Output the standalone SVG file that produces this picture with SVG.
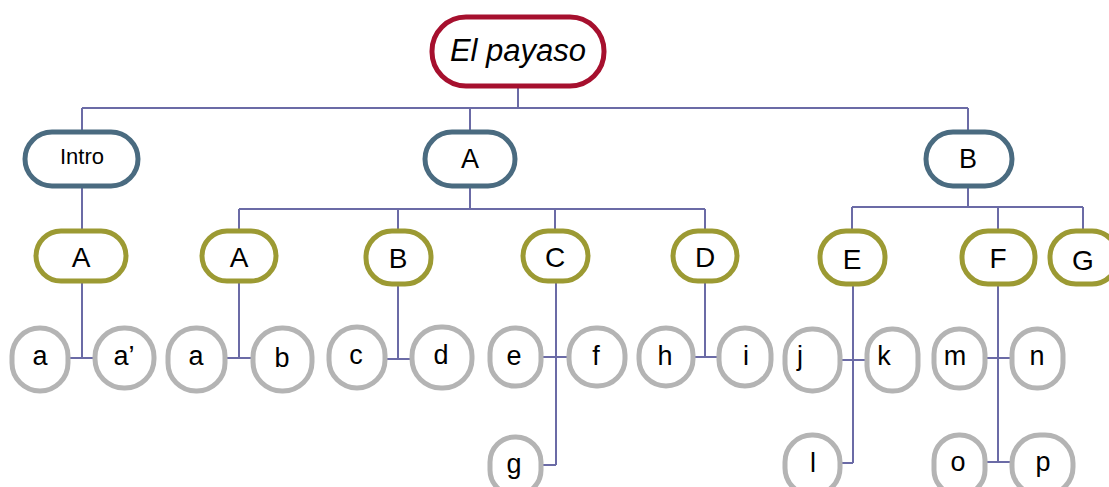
<svg xmlns="http://www.w3.org/2000/svg" width="1109" height="487" viewBox="0 0 1109 487">
  <style>
    .root { fill: #fff; stroke: #A6102E; stroke-width: 5; }
    .sec { fill: #fff; stroke: #4A6B80; stroke-width: 5; }
    .sub { fill: #fff; stroke: #9C9A33; stroke-width: 5; }
    .leaf { fill: #fff; stroke: #B4B4B4; stroke-width: 5; }
    .t { font-family: "Liberation Sans", Arial, sans-serif; fill: #000; text-anchor: middle; }
    .tl { font-size: 31px; font-style: italic; }
    .t1 { font-size: 27px; }
    .ti { font-size: 22px; }
    .t2 { font-size: 28px; }
    .t3 { font-size: 27px; }
    .conn { fill: none; stroke: #6B6BA6; stroke-width: 2; }
  </style>

  <!-- connectors -->
  <g id="connectors" class="conn">
    <path d="M518 88 V108 M82 108 H968 M82 108 V132 M470 108 V132 M968 108 V132"/>
    <path d="M82 186 V231"/>
    <path d="M470 186 V209 M239 209 H705 M239 209 V231 M398 209 V231 M555 209 V231 M705 209 V231"/>
    <path d="M968 186 V207 M852 207 H1083 M852 207 V231 M998 207 V231 M1083 207 V231"/>
    <path d="M82 281 V358 M68 358 H95"/>
    <path d="M239 281 V358 M225 358 H253"/>
    <path d="M398 283 V359 M385 359 H412"/>
    <path d="M556 281 V465 M541 357 H569 M541 465 H556"/>
    <path d="M705 281 V357 M693 357 H719"/>
    <path d="M853 286 V463 M840 360 H867 M840 463 H853"/>
    <path d="M998 286 V462 M985 358 H1012 M985 462 H1012"/>
  </g>

  <!-- root -->
  <g id="node-root">
    <rect class="root" x="432" y="17" width="172" height="69" rx="34"/>
    <text class="t tl" x="518" y="61">El payaso</text>
  </g>

  <!-- sections -->
  <g id="node-intro">
    <rect class="sec" x="25" y="132" width="113" height="54" rx="27"/>
    <text class="t ti" x="82" y="164">Intro</text>
  </g>
  <g id="node-A">
    <rect class="sec" x="425" y="132" width="90" height="54" rx="27"/>
    <text class="t t1" x="470" y="168">A</text>
  </g>
  <g id="node-B">
    <rect class="sec" x="926" y="132" width="86" height="54" rx="27"/>
    <text class="t t1" x="968" y="168">B</text>
  </g>

  <!-- subsections -->
  <g id="node-intro-A">
    <rect class="sub" x="36" y="231" width="90" height="50" rx="25"/>
    <text class="t t2" x="81" y="267">A</text>
  </g>
  <g id="node-A-A">
    <rect class="sub" x="202" y="231" width="74" height="50" rx="25"/>
    <text class="t t2" x="239" y="267">A</text>
  </g>
  <g id="node-A-B">
    <rect class="sub" x="366" y="231" width="65" height="53" rx="26"/>
    <text class="t t2" x="398" y="268">B</text>
  </g>
  <g id="node-A-C">
    <rect class="sub" x="523" y="231" width="65" height="50" rx="25"/>
    <text class="t t2" x="555" y="267">C</text>
  </g>
  <g id="node-A-D">
    <rect class="sub" x="673" y="231" width="64" height="50" rx="25"/>
    <text class="t t2" x="705" y="267">D</text>
  </g>
  <g id="node-B-E">
    <rect class="sub" x="820" y="231" width="65" height="53" rx="26"/>
    <text class="t t2" x="852" y="269">E</text>
  </g>
  <g id="node-B-F">
    <rect class="sub" x="962" y="231" width="73" height="53" rx="26"/>
    <text class="t t2" x="998" y="268">F</text>
  </g>
  <g id="node-B-G">
    <rect class="sub" x="1050" y="231" width="68" height="53" rx="26"/>
    <text class="t t2" x="1083" y="270">G</text>
  </g>

  <!-- leaves -->
  <g id="leaf-a1"><rect class="leaf" x="12" y="328" width="56" height="63" rx="28"/><text class="t t3" x="40" y="365">a</text></g>
  <g id="leaf-a2"><rect class="leaf" x="95" y="328" width="59" height="60" rx="29"/><text class="t t3" x="124" y="365">a’</text></g>
  <g id="leaf-a3"><rect class="leaf" x="168" y="328" width="57" height="63" rx="28"/><text class="t t3" x="196" y="365">a</text></g>
  <g id="leaf-b"><rect class="leaf" x="253" y="328" width="59" height="63" rx="29"/><text class="t t3" x="282" y="367">b</text></g>
  <g id="leaf-c"><rect class="leaf" x="329" y="327" width="56" height="61" rx="28"/><text class="t t3" x="356" y="364">c</text></g>
  <g id="leaf-d"><rect class="leaf" x="412" y="327" width="60" height="61" rx="29"/><text class="t t3" x="441" y="364">d</text></g>
  <g id="leaf-e"><rect class="leaf" x="490" y="328" width="51" height="58" rx="25"/><text class="t t3" x="514" y="365">e</text></g>
  <g id="leaf-f"><rect class="leaf" x="569" y="328" width="56" height="58" rx="27"/><text class="t t3" x="596" y="365">f</text></g>
  <g id="leaf-g"><rect class="leaf" x="490" y="437" width="51" height="58" rx="25"/><text class="t t3" x="514" y="473">g</text></g>
  <g id="leaf-h"><rect class="leaf" x="639" y="328" width="54" height="58" rx="27"/><text class="t t3" x="665" y="365">h</text></g>
  <g id="leaf-i"><rect class="leaf" x="719" y="328" width="52" height="58" rx="26"/><text class="t t3" x="746" y="365">i</text></g>
  <g id="leaf-j"><rect class="leaf" x="785" y="329" width="55" height="62" rx="27"/><text class="t t3" x="800" y="365">j</text></g>
  <g id="leaf-k"><rect class="leaf" x="867" y="329" width="51" height="62" rx="25"/><text class="t t3" x="884" y="365">k</text></g>
  <g id="leaf-l"><rect class="leaf" x="785" y="435" width="55" height="60" rx="27"/><text class="t t3" x="813" y="472">l</text></g>
  <g id="leaf-m"><rect class="leaf" x="934" y="329" width="51" height="59" rx="25"/><text class="t t3" x="955" y="365">m</text></g>
  <g id="leaf-n"><rect class="leaf" x="1012" y="329" width="51" height="59" rx="25"/><text class="t t3" x="1037" y="365">n</text></g>
  <g id="leaf-o"><rect class="leaf" x="934" y="435" width="51" height="60" rx="25"/><text class="t t3" x="958" y="471">o</text></g>
  <g id="leaf-p"><rect class="leaf" x="1012" y="435" width="61" height="60" rx="28"/><text class="t t3" x="1043" y="471">p</text></g>
</svg>
